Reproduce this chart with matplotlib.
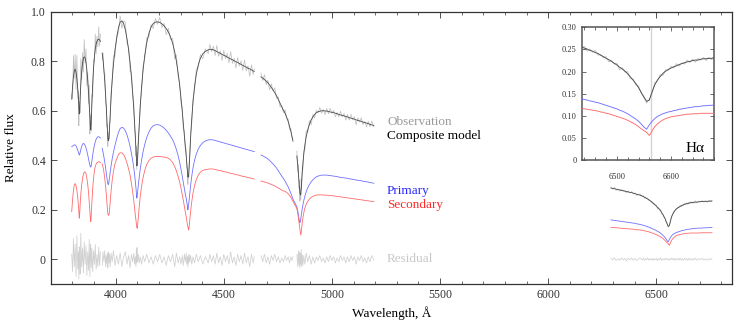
import numpy as np
import matplotlib
matplotlib.use("Agg")
import matplotlib.pyplot as plt
from matplotlib.ticker import MultipleLocator, FuncFormatter

# ---- spectrum pieces (wavelength in A, relative flux) ----
# blue end, before the Ca II K gap
wl_a = [3797, 3801, 3805, 3809, 3813, 3817, 3821, 3825, 3828, 3830,
        3832, 3834, 3836, 3839, 3843, 3847, 3851, 3855, 3859, 3863,
        3867, 3871, 3875, 3878, 3881, 3883, 3885, 3887, 3890, 3894,
        3898, 3902, 3906, 3910, 3914, 3918, 3922, 3926, 3930]
prim_a = [0.455, 0.457, 0.460, 0.462, 0.462, 0.458, 0.450, 0.440, 0.432, 0.426,
          0.421, 0.424, 0.432, 0.443, 0.455, 0.464, 0.468, 0.466, 0.460, 0.450,
          0.437, 0.422, 0.405, 0.392, 0.381, 0.375, 0.372, 0.378, 0.395, 0.420,
          0.443, 0.461, 0.475, 0.485, 0.491, 0.495, 0.495, 0.493, 0.490]
sec_a = [0.192, 0.240, 0.278, 0.300, 0.306, 0.298, 0.278, 0.248, 0.218, 0.193,
         0.166, 0.185, 0.220, 0.262, 0.300, 0.326, 0.343, 0.352, 0.353, 0.345,
         0.328, 0.303, 0.268, 0.232, 0.195, 0.168, 0.152, 0.175, 0.225, 0.285,
         0.328, 0.357, 0.375, 0.385, 0.390, 0.393, 0.394, 0.393, 0.390]
res_a = [0.020, -0.050, 0.085, -0.030, 0.060, -0.070, 0.095, -0.040, 0.030, -0.080,
         0.050, 0.010, -0.060, 0.105, -0.030, 0.045, -0.055, 0.070, -0.020, 0.055,
         -0.065, 0.030, -0.045, 0.080, -0.070, 0.020, 0.060, -0.035, 0.045, -0.050,
         0.035, -0.020, 0.060, -0.040, 0.020, -0.030, 0.050, -0.025, 0.030]

# H-epsilon to the 4650 gap
wl_b = [3938, 3942, 3946, 3950, 3954, 3957, 3960, 3962, 3964, 3966,
        3968, 3970, 3972, 3975, 3979, 3984, 3990, 3997, 4005, 4013,
        4021, 4029, 4037, 4045, 4053, 4060, 4067, 4073, 4079, 4084,
        4088, 4091, 4094, 4096, 4098, 4100, 4102, 4105, 4109, 4114,
        4120, 4127, 4135, 4144, 4154, 4164, 4174, 4184, 4194, 4204,
        4214, 4224, 4234, 4244, 4254, 4264, 4273, 4281, 4289, 4296,
        4302, 4308, 4313, 4318, 4322, 4326, 4329, 4332, 4334, 4336,
        4338, 4340, 4343, 4347, 4352, 4358, 4365, 4373, 4382, 4392,
        4403, 4415, 4428, 4436, 4444, 4452, 4460, 4468, 4476, 4484,
        4492, 4500, 4508, 4516, 4524, 4532, 4540, 4548, 4556, 4564,
        4572, 4580, 4588, 4596, 4604, 4612, 4620, 4628, 4636, 4641]
prim_b = [0.448, 0.432, 0.413, 0.392, 0.368, 0.347, 0.327, 0.316, 0.306, 0.301,
          0.306, 0.318, 0.332, 0.352, 0.377, 0.405, 0.433, 0.460, 0.487, 0.512,
          0.528, 0.533, 0.530, 0.519, 0.501, 0.481, 0.456, 0.429, 0.399, 0.369,
          0.341, 0.316, 0.289, 0.268, 0.247, 0.256, 0.275, 0.300, 0.330, 0.365,
          0.400, 0.435, 0.465, 0.492, 0.514, 0.530, 0.539, 0.543, 0.544, 0.542,
          0.537, 0.530, 0.521, 0.510, 0.497, 0.482, 0.464, 0.443, 0.418, 0.392,
          0.365, 0.337, 0.310, 0.285, 0.265, 0.248, 0.232, 0.215, 0.200, 0.210,
          0.225, 0.240, 0.265, 0.300, 0.335, 0.370, 0.400, 0.425, 0.445, 0.460,
          0.471, 0.478, 0.482, 0.483, 0.483, 0.482, 0.480, 0.478, 0.476, 0.474,
          0.472, 0.470, 0.468, 0.466, 0.464, 0.462, 0.460, 0.458, 0.456, 0.454,
          0.452, 0.450, 0.448, 0.446, 0.444, 0.442, 0.440, 0.438, 0.436, 0.435]
sec_b = [0.385, 0.372, 0.352, 0.325, 0.292, 0.262, 0.228, 0.205, 0.185, 0.178,
         0.178, 0.183, 0.200, 0.232, 0.275, 0.318, 0.355, 0.385, 0.405, 0.423,
         0.430, 0.430, 0.423, 0.408, 0.388, 0.365, 0.338, 0.308, 0.272, 0.237,
         0.205, 0.180, 0.158, 0.143, 0.130, 0.125, 0.140, 0.170, 0.210, 0.255,
         0.295, 0.330, 0.360, 0.383, 0.399, 0.408, 0.413, 0.415, 0.415, 0.415,
         0.414, 0.413, 0.411, 0.408, 0.401, 0.390, 0.375, 0.357, 0.335, 0.312,
         0.288, 0.262, 0.238, 0.213, 0.193, 0.173, 0.157, 0.142, 0.132, 0.123,
         0.118, 0.132, 0.160, 0.196, 0.232, 0.268, 0.298, 0.322, 0.340, 0.352,
         0.359, 0.362, 0.364, 0.365, 0.365, 0.364, 0.363, 0.361, 0.359, 0.358,
         0.356, 0.354, 0.353, 0.351, 0.349, 0.347, 0.346, 0.344, 0.342, 0.341,
         0.339, 0.337, 0.335, 0.334, 0.332, 0.330, 0.329, 0.327, 0.325, 0.324]
res_b = [-0.025, 0.030, -0.010, 0.035, -0.030, 0.015, -0.020, 0.025, -0.035, 0.010,
         0.030, -0.015, 0.020, -0.030, 0.025, -0.010, 0.035, -0.025, 0.015, -0.020,
         0.025, -0.030, 0.010, 0.030, -0.020, 0.015, -0.035, 0.020, -0.010, 0.025,
         -0.020, 0.010, -0.030, 0.045, -0.015, 0.050, -0.010, 0.020, -0.015, 0.010,
         -0.020, 0.015, -0.010, 0.020, -0.015, 0.010, -0.020, 0.015, -0.010, 0.020,
         -0.015, 0.010, -0.025, 0.015, -0.010, 0.020, -0.030, 0.025, -0.015, 0.010,
         -0.020, 0.015, -0.025, 0.020, -0.010, 0.025, -0.020, 0.010, -0.030, 0.015,
         -0.015, 0.020, -0.010, 0.015, -0.020, 0.010, -0.015, 0.020, -0.010, 0.015,
         -0.020, 0.010, -0.015, 0.020, -0.010, 0.015, -0.020, 0.025, -0.015, 0.010,
         -0.025, 0.020, -0.010, 0.015, -0.020, 0.030, -0.015, 0.010, -0.025, 0.020,
         -0.010, 0.015, -0.020, 0.025, -0.015, 0.010, -0.030, 0.020, -0.015, 0.010]

# 4670 to the small gap before H-beta
wl_c1 = [4672, 4680, 4688, 4696, 4704, 4712, 4720, 4728, 4736, 4744,
         4752, 4760, 4768, 4776, 4784, 4791, 4798, 4804, 4810, 4815, 4820]
prim_c1 = [0.421, 0.418, 0.414, 0.410, 0.405, 0.399, 0.392, 0.385, 0.377, 0.368,
           0.358, 0.347, 0.336, 0.326, 0.315, 0.303, 0.292, 0.280, 0.267, 0.255, 0.243]
sec_c1 = [0.316, 0.314, 0.312, 0.310, 0.308, 0.305, 0.302, 0.299, 0.296, 0.292,
          0.288, 0.284, 0.280, 0.276, 0.274, 0.270, 0.264, 0.258, 0.250, 0.243, 0.234]
res_c1 = [0.015, -0.010, 0.020, -0.015, 0.010, -0.020, 0.015, -0.005, 0.020, -0.010,
          0.010, -0.015, 0.005, -0.010, 0.015, -0.005, 0.010, -0.015, 0.010, -0.005, 0.010]

# H-beta and beyond
wl_c2 = [4838, 4842, 4845, 4848, 4850, 4852, 4854, 4856, 4858, 4860,
         4863, 4866, 4870, 4875, 4881, 4888, 4896, 4904, 4912, 4920,
         4928, 4936, 4944, 4952, 4960, 4968, 4976, 4984, 4992, 5000,
         5008, 5016, 5024, 5032, 5040, 5048, 5056, 5064, 5072, 5080,
         5088, 5096, 5104, 5112, 5120, 5128, 5136, 5144, 5152, 5160,
         5168, 5176, 5184, 5194]
prim_c2 = [0.212, 0.196, 0.180, 0.163, 0.154, 0.148, 0.152, 0.163, 0.176, 0.188,
           0.205, 0.220, 0.237, 0.255, 0.272, 0.288, 0.302, 0.313, 0.321, 0.328,
           0.333, 0.336, 0.338, 0.340, 0.340, 0.340, 0.340, 0.339, 0.338, 0.337,
           0.336, 0.335, 0.334, 0.332, 0.331, 0.330, 0.329, 0.328, 0.327, 0.325,
           0.324, 0.323, 0.322, 0.320, 0.319, 0.318, 0.317, 0.315, 0.314, 0.313,
           0.312, 0.310, 0.309, 0.307]
sec_c2 = [0.205, 0.186, 0.168, 0.148, 0.135, 0.122, 0.108, 0.098, 0.108, 0.125,
          0.148, 0.168, 0.188, 0.207, 0.222, 0.234, 0.243, 0.250, 0.254, 0.257,
          0.259, 0.260, 0.260, 0.260, 0.260, 0.259, 0.259, 0.258, 0.257, 0.257,
          0.256, 0.255, 0.254, 0.253, 0.252, 0.251, 0.250, 0.249, 0.248, 0.247,
          0.246, 0.245, 0.244, 0.243, 0.242, 0.241, 0.240, 0.239, 0.238, 0.237,
          0.236, 0.235, 0.234, 0.233]
res_c2 = [0.020, -0.030, 0.035, -0.025, 0.030, -0.035, 0.025, -0.020, 0.040, -0.030,
          0.020, -0.025, 0.015, -0.020, 0.025, -0.010, 0.015, -0.020, 0.010, -0.015,
          0.010, -0.005, 0.015, -0.010, 0.005, -0.015, 0.010, -0.010, 0.015, -0.005,
          0.010, -0.015, 0.005, -0.010, 0.015, -0.005, 0.010, -0.015, 0.010, -0.010,
          0.015, -0.005, 0.010, -0.020, 0.010, -0.005, 0.015, -0.010, 0.005, -0.015,
          0.010, -0.010, 0.015, -0.005]

# H-alpha region
wl_d = [6290, 6298, 6306, 6314, 6322, 6330, 6338, 6346, 6354, 6362,
        6370, 6378, 6386, 6394, 6402, 6410, 6418, 6426, 6434, 6440,
        6445, 6450, 6455, 6460, 6465, 6470, 6475, 6480, 6485, 6490,
        6495, 6500, 6505, 6510, 6515, 6520, 6525, 6530, 6535, 6540,
        6545, 6550, 6555, 6560, 6565, 6570, 6575, 6580, 6585, 6590,
        6595, 6600, 6605, 6610, 6615, 6620, 6625, 6630, 6635, 6640,
        6645, 6650, 6655, 6660, 6665, 6670, 6675, 6680, 6688, 6696,
        6704, 6712, 6720, 6728, 6736, 6744, 6752, 6757]
prim_d = [0.159, 0.158, 0.157, 0.156, 0.155, 0.154, 0.153, 0.152, 0.151, 0.150,
          0.149, 0.148, 0.147, 0.146, 0.145, 0.143, 0.142, 0.140, 0.139, 0.137,
          0.136, 0.134, 0.133, 0.131, 0.130, 0.128, 0.126, 0.124, 0.122, 0.120,
          0.118, 0.116, 0.113, 0.111, 0.108, 0.105, 0.101, 0.097, 0.093, 0.088,
          0.082, 0.075, 0.070, 0.080, 0.088, 0.094, 0.099, 0.102, 0.105, 0.107,
          0.109, 0.110, 0.112, 0.113, 0.115, 0.116, 0.117, 0.118, 0.119, 0.120,
          0.121, 0.121, 0.122, 0.123, 0.123, 0.124, 0.124, 0.125, 0.125, 0.126,
          0.126, 0.126, 0.127, 0.127, 0.127, 0.128, 0.128, 0.128]
sec_d = [0.129, 0.128, 0.128, 0.127, 0.127, 0.126, 0.125, 0.125, 0.124, 0.124,
         0.123, 0.122, 0.122, 0.121, 0.120, 0.119, 0.119, 0.118, 0.117, 0.116,
         0.115, 0.114, 0.113, 0.112, 0.111, 0.109, 0.108, 0.106, 0.105, 0.103,
         0.101, 0.099, 0.097, 0.095, 0.093, 0.090, 0.087, 0.084, 0.080, 0.076,
         0.071, 0.067, 0.063, 0.056, 0.066, 0.076, 0.082, 0.087, 0.091, 0.094,
         0.096, 0.098, 0.099, 0.100, 0.101, 0.102, 0.103, 0.104, 0.104, 0.105,
         0.105, 0.105, 0.106, 0.106, 0.106, 0.106, 0.106, 0.106, 0.106, 0.106,
         0.107, 0.107, 0.107, 0.107, 0.107, 0.107, 0.107, 0.107]
res_d = [0.004, -0.003, 0.006, -0.005, 0.002, -0.004, 0.005, -0.002, 0.003, -0.006,
         0.004, -0.002, 0.005, -0.004, 0.003, -0.005, 0.002, 0.006, -0.003, 0.004,
         -0.005, 0.003, -0.002, 0.005, -0.004, 0.002, -0.003, 0.004, -0.005, 0.003,
         -0.002, 0.004, -0.006, 0.003, -0.002, 0.005, -0.004, 0.002, -0.003, 0.004,
         -0.002, 0.003, -0.004, 0.002, -0.003, 0.005, -0.002, 0.004, -0.005, 0.003,
         -0.002, 0.004, -0.003, 0.005, -0.004, 0.002, -0.003, 0.004, -0.002, 0.003,
         -0.005, 0.004, -0.002, 0.003, -0.004, 0.002, -0.003, 0.005, -0.004, 0.003,
         -0.002, 0.004, -0.003, 0.002, -0.004, 0.003, -0.002, 0.003]

halpha = 6562.8

labels = ["Observation", "Composite model", "Primary", "Secondary", "Residual"]
label_y = [0.555, 0.498, 0.276, 0.219, 0.0]

c_obs = "#c0c0c0"
c_comp = "#4a4a4a"
c_prim = "#7070ff"
c_sec = "#ff6a6a"
c_res = "#d0d0d0"
text_colors = ["#9a9a9a", "#000000", "#2a2aff", "#ff2a2a", "#c8c8c8"]

plt.rcParams['font.family'] = ['Liberation Serif', 'DejaVu Serif']

# pieces drawn separately so the gaps stay open
obs_pieces = [(wl_a, prim_a, sec_a, res_a), (wl_b, prim_b, sec_b, res_b),
              (wl_c1, prim_c1, sec_c1, res_c1), (wl_c2, prim_c2, sec_c2, res_c2),
              (wl_d, prim_d, sec_d, res_d)]
# the components run straight through the small H-beta gap
comp_pieces = [(wl_a, prim_a, sec_a), (wl_b, prim_b, sec_b),
               (wl_c1 + wl_c2, prim_c1 + prim_c2, sec_c1 + sec_c2),
               (wl_d, prim_d, sec_d)]


def draw(ax, lw=0.6):
    for w, p, s, r in obs_pieces:
        w = np.array(w)
        model = np.array(p) + np.array(s)
        ax.plot(w, model + np.array(r), color=c_obs, lw=lw * 0.9, zorder=1)
        ax.plot(w, model, color=c_comp, lw=lw, zorder=2)
    for w, p, s in comp_pieces:
        ax.plot(w, p, color=c_prim, lw=lw, zorder=3)
        ax.plot(w, s, color=c_sec, lw=lw, zorder=3)


fig = plt.figure(figsize=(7.47, 3.26), dpi=100)
ax = fig.add_axes([0.0679, 0.1288, 0.9121, 0.8352])
draw(ax)
for w, p, s, r in obs_pieces:
    ax.plot(w, r, color=c_res, lw=0.55, zorder=1)

ax.set_xlim(3700, 6850)
ax.set_ylim(-0.1, 1.0)
ax.xaxis.set_major_locator(MultipleLocator(500))
ax.xaxis.set_minor_locator(MultipleLocator(100))
ax.yaxis.set_major_locator(MultipleLocator(0.2))
ax.yaxis.set_major_formatter(FuncFormatter(lambda v, p: "0" if abs(v) < 1e-9 else f"{v:.1f}"))
ax.tick_params(which="both", direction="in", top=True, right=True, labelsize=8.5, colors="#333333")
ax.tick_params(which="major", length=4, width=0.6)
ax.tick_params(which="minor", length=2.5, width=0.5)
for sp in ax.spines.values():
    sp.set_color("#333333")
    sp.set_linewidth(0.9)
ax.set_xlabel("Wavelength, Å", fontsize=9.5, labelpad=4)
ax.set_ylabel("Relative flux", fontsize=9.5, labelpad=10)

for txt, yv, col in zip(labels, label_y, text_colors):
    ax.text(5255, yv, txt, color=col, fontsize=9.5, ha="left", va="center")

# inset around H-alpha
axin = fig.add_axes([0.7787, 0.5083, 0.1775, 0.4080])
axin.axvline(halpha, color="#d4d4d4", lw=1.0, zorder=0)
draw(axin, lw=0.65)
axin.set_xlim(6435, 6680)
axin.set_ylim(0, 0.30)
axin.xaxis.set_major_locator(MultipleLocator(100))
axin.xaxis.set_minor_locator(MultipleLocator(20))
axin.yaxis.set_major_locator(MultipleLocator(0.05))
axin.yaxis.set_major_formatter(FuncFormatter(lambda v, p: "0" if abs(v) < 1e-9 else f"{v:.2f}"))
axin.tick_params(which="both", direction="in", top=True, right=True, labelsize=6, colors="#333333")
axin.tick_params(which="major", length=3, width=0.5)
axin.tick_params(which="minor", length=2, width=0.5)
axin.tick_params(axis="x", pad=9)
for sp in axin.spines.values():
    sp.set_color("#555555")
    sp.set_linewidth(1.1)
axin.text(0.93, 0.09, "Hα", transform=axin.transAxes, fontsize=11, ha="right", va="center")

fig.savefig("out.png", dpi=100)
